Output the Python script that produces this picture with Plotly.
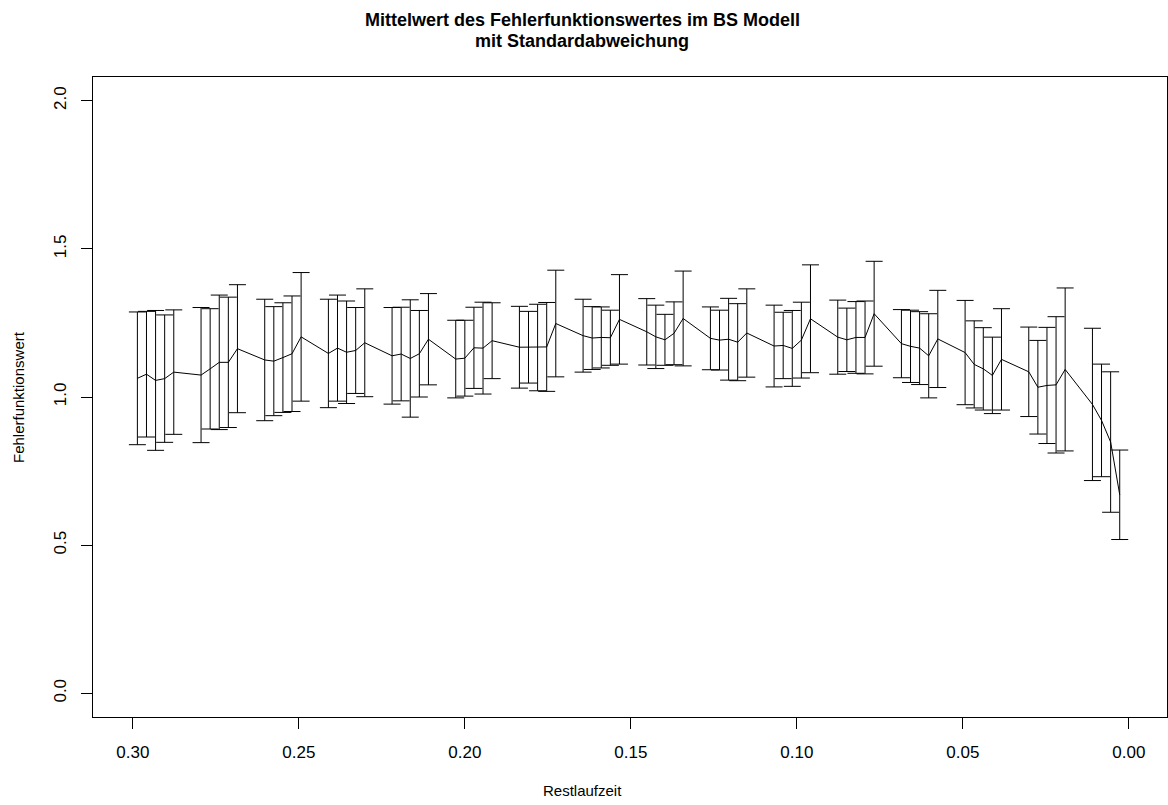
import plotly.graph_objects as go

# Remaining maturity in calendar days (trading days only)
days = [109, 108, 107, 106, 105,
        102, 101, 100, 99, 98,
        95, 94, 93, 92, 91,
        88, 87, 86, 85, 84,
        81, 80, 79, 78, 77,
        74, 73, 72, 71, 70,
        67, 66, 65, 64, 63,
        60, 59, 58, 57, 56,
        53, 52, 51, 50, 49,
        46, 45, 44, 43, 42,
        39, 38, 37, 36, 35,
        32, 31, 30, 29, 28,
        25, 24, 23, 22, 21,
        18, 17, 16, 15, 14,
        11, 10, 9, 8, 7,
        4, 3, 2, 1]

# Mean of the error function value per day
mittelwert = [1.063, 1.077, 1.056, 1.062, 1.084,
              1.074, 1.095, 1.117, 1.117, 1.163,
              1.125, 1.121, 1.133, 1.146, 1.203,
              1.147, 1.165, 1.151, 1.157, 1.183,
              1.139, 1.145, 1.130, 1.146, 1.195,
              1.128, 1.131, 1.166, 1.165, 1.190,
              1.168, 1.168, 1.167, 1.169, 1.248,
              1.207, 1.199, 1.201, 1.200, 1.262,
              1.220, 1.203, 1.193, 1.215, 1.265,
              1.198, 1.192, 1.195, 1.185, 1.216,
              1.172, 1.174, 1.164, 1.192, 1.264,
              1.202, 1.193, 1.201, 1.201, 1.281,
              1.180, 1.171, 1.165, 1.139, 1.196,
              1.150, 1.110, 1.095, 1.073, 1.127,
              1.085, 1.033, 1.039, 1.041, 1.093,
              0.975, 0.921, 0.848, 0.670]

# Standard deviation per day
standardabweichung = [0.224, 0.212, 0.236, 0.215, 0.210,
                      0.228, 0.203, 0.227, 0.220, 0.216,
                      0.205, 0.184, 0.185, 0.195, 0.217,
                      0.183, 0.179, 0.173, 0.145, 0.182,
                      0.163, 0.158, 0.198, 0.146, 0.154,
                      0.131, 0.128, 0.137, 0.155, 0.128,
                      0.138, 0.121, 0.146, 0.150, 0.180,
                      0.123, 0.106, 0.103, 0.093, 0.151,
                      0.112, 0.107, 0.086, 0.106, 0.160,
                      0.106, 0.101, 0.138, 0.130, 0.149,
                      0.138, 0.112, 0.128, 0.128, 0.182,
                      0.125, 0.107, 0.121, 0.123, 0.177,
                      0.115, 0.122, 0.123, 0.142, 0.164,
                      0.176, 0.147, 0.139, 0.129, 0.171,
                      0.151, 0.158, 0.196, 0.230, 0.275,
                      0.257, 0.190, 0.237, 0.151]

x_ticks = [0.30, 0.25, 0.20, 0.15, 0.10, 0.05, 0.00]
x_ticktext = ["0.30", "0.25", "0.20", "0.15", "0.10", "0.05", "0.00"]
y_ticks = [0.0, 0.5, 1.0, 1.5, 2.0]
y_ticktext = ["0.0", "0.5", "1.0", "1.5", "2.0"]

restlaufzeit = [d / 365 for d in days]

FONT = "Liberation Sans, Arial, Helvetica, sans-serif"

fig = go.Figure()
fig.add_trace(go.Scatter(
    x=restlaufzeit,
    y=mittelwert,
    mode="lines",
    line=dict(color="black", width=1),
    error_y=dict(type="data", array=standardabweichung, visible=True,
                 color="black", thickness=1, width=8.5),
    showlegend=False,
    hoverinfo="x+y",
))

W, H = 1168, 805
ML, MR, MT, MB = 93, 1, 77, 88

fig.update_layout(
    width=W, height=H,
    margin=dict(l=ML, r=MR, t=MT, b=MB, pad=0),
    paper_bgcolor="white",
    plot_bgcolor="white",
    font=dict(family=FONT, size=15, color="black"),
    xaxis=dict(
        range=[0.312, -0.0115],
        tickvals=x_ticks, ticktext=x_ticktext,
        ticks="outside", ticklen=11, tickwidth=1, tickcolor="black",
        showline=True, linecolor="black", linewidth=1, mirror=True,
        showgrid=False, zeroline=False,
        tickfont=dict(family=FONT, size=17, color="black"),
        ticklabelstandoff=9,
    ),
    yaxis=dict(
        range=[-0.08, 2.08],
        tickvals=y_ticks, ticktext=y_ticktext,
        tickangle=-90,
        ticks="outside", ticklen=11, tickwidth=1, tickcolor="black",
        showline=True, linecolor="black", linewidth=1, mirror=True,
        showgrid=False, zeroline=False,
        tickfont=dict(family=FONT, size=17, color="black"),
        ticklabelstandoff=8,
    ),
)

def px_x(p):
    return (p - ML) / (W - ML - MR)

def px_y(p):
    return (H - MB - p) / (H - MT - MB)

title_font = dict(family=FONT, size=18, color="black", weight="bold")
fig.add_annotation(text="Mittelwert des Fehlerfunktionswertes im BS Modell",
                   xref="paper", yref="paper", x=px_x(582), y=px_y(20),
                   xanchor="center", yanchor="middle", showarrow=False,
                   font=title_font)
fig.add_annotation(text="mit Standardabweichung",
                   xref="paper", yref="paper", x=px_x(582), y=px_y(41),
                   xanchor="center", yanchor="middle", showarrow=False,
                   font=title_font)
fig.add_annotation(text="Restlaufzeit",
                   xref="paper", yref="paper", x=px_x(582), y=px_y(790),
                   xanchor="center", yanchor="middle", showarrow=False,
                   font=dict(family=FONT, size=15, color="black"))
fig.add_annotation(text="Fehlerfunktionswert",
                   xref="paper", yref="paper", x=px_x(18), y=px_y(397),
                   xanchor="center", yanchor="middle", showarrow=False,
                   textangle=-90,
                   font=dict(family=FONT, size=15, color="black"))

fig.write_html("out.html")
